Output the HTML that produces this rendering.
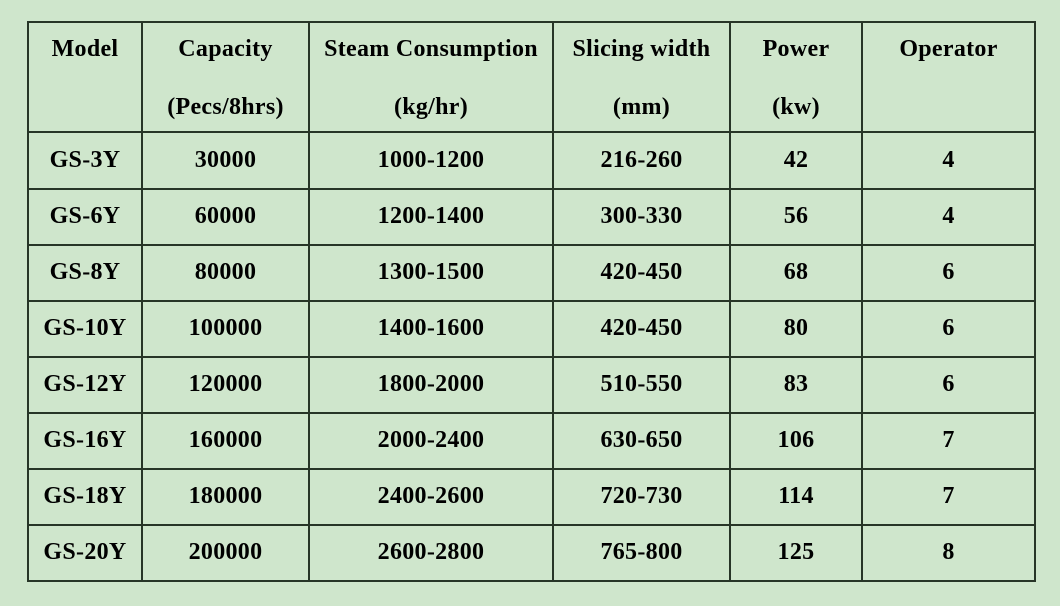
<!DOCTYPE html>
<html><head><meta charset="utf-8"><style>
html,body{margin:0;padding:0;}
body{width:1060px;height:606px;background:#cfe6cc;position:relative;overflow:hidden;font-family:"Liberation Serif","Times New Roman",serif;font-weight:bold;font-size:24px;color:#000;}
.h{position:absolute;height:2px;background:#273527;left:27px;width:1009px;}
.v{position:absolute;width:2px;background:#273527;top:21px;height:561px;}
.t{position:absolute;height:30px;line-height:30px;text-align:center;white-space:nowrap;letter-spacing:0.3px;}
</style></head><body>
<div class="h" style="top:21px"></div>
<div class="h" style="top:131px"></div>
<div class="h" style="top:188px"></div>
<div class="h" style="top:244px"></div>
<div class="h" style="top:300px"></div>
<div class="h" style="top:356px"></div>
<div class="h" style="top:412px"></div>
<div class="h" style="top:468px"></div>
<div class="h" style="top:524px"></div>
<div class="h" style="top:580px"></div>
<div class="v" style="left:27px"></div>
<div class="v" style="left:141px"></div>
<div class="v" style="left:308px"></div>
<div class="v" style="left:552px"></div>
<div class="v" style="left:729px"></div>
<div class="v" style="left:861px"></div>
<div class="v" style="left:1034px"></div>

<div class="t" style="left:29px;width:112px;top:34px">Model</div>
<div class="t" style="left:143px;width:165px;top:34px">Capacity</div>
<div class="t" style="left:143px;width:165px;top:92px">(Pecs/8hrs)</div>
<div class="t" style="left:310px;width:242px;top:34px">Steam Consumption</div>
<div class="t" style="left:310px;width:242px;top:92px">(kg/hr)</div>
<div class="t" style="left:554px;width:175px;top:34px">Slicing width</div>
<div class="t" style="left:554px;width:175px;top:92px">(mm)</div>
<div class="t" style="left:731px;width:130px;top:34px">Power</div>
<div class="t" style="left:731px;width:130px;top:92px">(kw)</div>
<div class="t" style="left:863px;width:171px;top:34px">Operator</div>

<div class="t" style="left:29px;width:112px;top:145px">GS-3Y</div>
<div class="t" style="left:143px;width:165px;top:145px">30000</div>
<div class="t" style="left:310px;width:242px;top:145px">1000-1200</div>
<div class="t" style="left:554px;width:175px;top:145px">216-260</div>
<div class="t" style="left:731px;width:130px;top:145px">42</div>
<div class="t" style="left:863px;width:171px;top:145px">4</div>

<div class="t" style="left:29px;width:112px;top:201px">GS-6Y</div>
<div class="t" style="left:143px;width:165px;top:201px">60000</div>
<div class="t" style="left:310px;width:242px;top:201px">1200-1400</div>
<div class="t" style="left:554px;width:175px;top:201px">300-330</div>
<div class="t" style="left:731px;width:130px;top:201px">56</div>
<div class="t" style="left:863px;width:171px;top:201px">4</div>

<div class="t" style="left:29px;width:112px;top:257px">GS-8Y</div>
<div class="t" style="left:143px;width:165px;top:257px">80000</div>
<div class="t" style="left:310px;width:242px;top:257px">1300-1500</div>
<div class="t" style="left:554px;width:175px;top:257px">420-450</div>
<div class="t" style="left:731px;width:130px;top:257px">68</div>
<div class="t" style="left:863px;width:171px;top:257px">6</div>

<div class="t" style="left:29px;width:112px;top:313px">GS-10Y</div>
<div class="t" style="left:143px;width:165px;top:313px">100000</div>
<div class="t" style="left:310px;width:242px;top:313px">1400-1600</div>
<div class="t" style="left:554px;width:175px;top:313px">420-450</div>
<div class="t" style="left:731px;width:130px;top:313px">80</div>
<div class="t" style="left:863px;width:171px;top:313px">6</div>

<div class="t" style="left:29px;width:112px;top:369px">GS-12Y</div>
<div class="t" style="left:143px;width:165px;top:369px">120000</div>
<div class="t" style="left:310px;width:242px;top:369px">1800-2000</div>
<div class="t" style="left:554px;width:175px;top:369px">510-550</div>
<div class="t" style="left:731px;width:130px;top:369px">83</div>
<div class="t" style="left:863px;width:171px;top:369px">6</div>

<div class="t" style="left:29px;width:112px;top:425px">GS-16Y</div>
<div class="t" style="left:143px;width:165px;top:425px">160000</div>
<div class="t" style="left:310px;width:242px;top:425px">2000-2400</div>
<div class="t" style="left:554px;width:175px;top:425px">630-650</div>
<div class="t" style="left:731px;width:130px;top:425px">106</div>
<div class="t" style="left:863px;width:171px;top:425px">7</div>

<div class="t" style="left:29px;width:112px;top:481px">GS-18Y</div>
<div class="t" style="left:143px;width:165px;top:481px">180000</div>
<div class="t" style="left:310px;width:242px;top:481px">2400-2600</div>
<div class="t" style="left:554px;width:175px;top:481px">720-730</div>
<div class="t" style="left:731px;width:130px;top:481px">114</div>
<div class="t" style="left:863px;width:171px;top:481px">7</div>

<div class="t" style="left:29px;width:112px;top:537px">GS-20Y</div>
<div class="t" style="left:143px;width:165px;top:537px">200000</div>
<div class="t" style="left:310px;width:242px;top:537px">2600-2800</div>
<div class="t" style="left:554px;width:175px;top:537px">765-800</div>
<div class="t" style="left:731px;width:130px;top:537px">125</div>
<div class="t" style="left:863px;width:171px;top:537px">8</div>
</body></html>
